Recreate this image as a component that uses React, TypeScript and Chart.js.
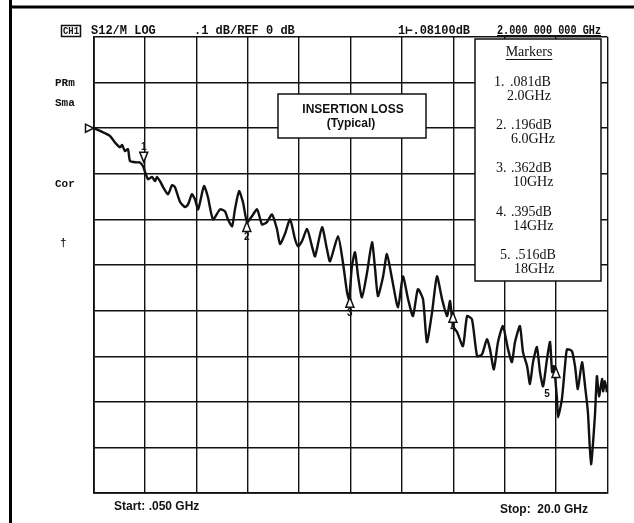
import React, { useEffect, useRef } from 'react';
import { Chart, registerables } from 'chart.js';

Chart.register(...registerables);

// Trace: frequency (GHz) and S12 magnitude (dB)
const freqGHz = [
  0.07, 0.30, 0.69, 0.88, 1.08, 1.16, 1.27, 1.39, 1.47, 1.74, 1.85, 1.97, 2.05, 2.17, 2.32, 2.44, 2.51, 2.63, 2.75, 2.94,
  3.10, 3.21, 3.41, 3.60, 3.72, 3.87, 3.99, 4.11, 4.34, 4.49, 4.69, 4.96, 5.15, 5.27, 5.43, 5.54, 5.70, 5.85, 6.01, 6.20,
  6.40, 6.59, 6.78, 6.98, 7.17, 7.29, 7.48, 7.68, 7.87, 7.99, 8.14, 8.34, 8.53, 8.65, 8.92, 9.11, 9.23, 9.54, 9.73, 9.89,
  9.97, 10.08, 10.20, 10.32, 10.47, 10.67, 10.86, 10.98, 11.09, 11.29, 11.44, 11.64, 11.87, 12.06, 12.26, 12.45, 12.64, 12.84, 12.99, 13.19,
  13.38, 13.58, 13.77, 13.89, 14.00, 14.16, 14.39, 14.55, 14.74, 14.94, 15.13, 15.32, 15.44, 15.59, 15.75, 15.94, 16.14, 16.29, 16.41, 16.60,
  16.72, 16.88, 16.99, 17.11, 17.26, 17.38, 17.50, 17.65, 17.77, 17.85, 17.92, 18.04, 18.08, 18.23, 18.35, 18.43, 18.62, 18.74, 18.85, 19.01,
  19.13, 19.24, 19.36, 19.51, 19.59, 19.67, 19.79, 19.83, 19.90, 19.98,
];
const lossDb = [
  0.000, -0.006, -0.017, -0.031, -0.042, -0.037, -0.050, -0.046, -0.072, -0.075, -0.075, -0.083, -0.096, -0.112, -0.107, -0.116, -0.107, -0.116, -0.129, -0.145,
  -0.125, -0.129, -0.162, -0.173, -0.167, -0.145, -0.156, -0.178, -0.127, -0.151, -0.200, -0.178, -0.182, -0.200, -0.215, -0.178, -0.138, -0.162, -0.206, -0.193,
  -0.178, -0.211, -0.206, -0.189, -0.221, -0.254, -0.232, -0.200, -0.243, -0.259, -0.248, -0.221, -0.259, -0.281, -0.217, -0.265, -0.292, -0.237, -0.294, -0.360,
  -0.375, -0.303, -0.272, -0.325, -0.371, -0.316, -0.250, -0.309, -0.368, -0.325, -0.276, -0.331, -0.393, -0.325, -0.375, -0.412, -0.353, -0.375, -0.469, -0.404,
  -0.325, -0.375, -0.412, -0.379, -0.434, -0.447, -0.478, -0.412, -0.419, -0.500, -0.496, -0.463, -0.485, -0.529, -0.469, -0.434, -0.485, -0.513, -0.469, -0.434,
  -0.491, -0.522, -0.561, -0.513, -0.480, -0.535, -0.566, -0.507, -0.469, -0.535, -0.522, -0.594, -0.634, -0.594, -0.522, -0.485, -0.489, -0.522, -0.572, -0.513,
  -0.566, -0.623, -0.737, -0.632, -0.544, -0.588, -0.550, -0.577, -0.555, -0.579,
];

// Markers
const markerNumbers = ['1', '2', '3', '4', '5'];
const markerFreqGHz = [2.0, 6.0, 10.0, 14.0, 18.0];
const markerDb = [-0.081, -0.196, -0.362, -0.395, -0.516];
const markerValueText = ['.081dB', '.196dB', '.362dB', '.395dB', '.516dB'];
const markerFreqText = ['2.0GHz', '6.0GHz', '10GHz', '14GHz', '18GHz'];

// Grid (10 x 10 divisions)
const xGridGHz = [0.05, 2.045, 4.04, 6.035, 8.03, 10.025, 12.02, 14.015, 16.01, 18.005, 20.0];
const yGridDb = [0.2, 0.1, 0.0, -0.1, -0.2, -0.3, -0.4, -0.5, -0.6, -0.7, -0.8];
const refLevelDb = 0;

// Texts
const headerTexts = ['S12/M LOG', '.1 dB/REF 0 dB', '1\u22A2.08100dB', '2.000 000 000 GHz'];
const sideLabels = ['PRm', 'Sma', 'Cor', '\u2020'];
const titleLines = ['INSERTION LOSS', '(Typical)'];
const startLabel = 'Start: .050 GHz';
const stopLabel = 'Stop:  20.0 GHz';

const INK = '#111';
const MONO = '"Liberation Mono", "DejaVu Sans Mono", monospace';
const SERIF = '"Liberation Serif", "DejaVu Serif", serif';
const SANS = '"Liberation Sans", Arial, sans-serif';

const decorPlugin = {
  id: 'decor',
  beforeDraw(chart: any) {
    const ctx = chart.ctx;
    ctx.save();
    ctx.fillStyle = '#fff';
    ctx.fillRect(0, 0, chart.width, chart.height);
    ctx.restore();
  },
  afterDatasetsDraw(chart: any) {
    const ctx = chart.ctx;
    const xs = chart.scales.x;
    const ys = chart.scales.y;
    const area = chart.chartArea;
    ctx.save();

    // outer frame of the scan
    ctx.strokeStyle = '#000';
    ctx.lineWidth = 3;
    ctx.beginPath();
    ctx.moveTo(10.5, 0);
    ctx.lineTo(10.5, chart.height);
    ctx.moveTo(10, 7);
    ctx.lineTo(chart.width, 7);
    ctx.stroke();

    // header
    ctx.fillStyle = INK;
    ctx.textBaseline = 'middle';
    ctx.textAlign = 'left';
    ctx.font = `bold 10px ${MONO}`;
    ctx.fillText('CH1', 63, 31, 16);
    ctx.lineWidth = 1.5;
    ctx.strokeStyle = INK;
    ctx.strokeRect(61.5, 25.5, 19, 11);
    ctx.font = `bold 12px ${MONO}`;
    ctx.fillText(headerTexts[0], 91, 31, 65);
    ctx.fillText(headerTexts[1], 194, 31, 111);
    ctx.fillText(headerTexts[2], 398, 31, 76);
    ctx.fillText(headerTexts[3], 497, 31, 104);
    ctx.fillRect(497, 35, 104, 1);

    // side labels
    ctx.font = `bold 11px ${MONO}`;
    ctx.fillText(sideLabels[0], 55, 83, 22);
    ctx.fillText(sideLabels[1], 55, 103, 22);
    ctx.fillText(sideLabels[2], 55, 184, 22);
    ctx.fillText(sideLabels[3], 60, 243);

    // reference level pointer
    const yr = ys.getPixelForValue(refLevelDb);
    ctx.lineWidth = 1.5;
    ctx.fillStyle = '#fff';
    ctx.beginPath();
    ctx.moveTo(area.left, yr);
    ctx.lineTo(area.left - 8, yr - 4);
    ctx.lineTo(area.left - 8, yr + 4);
    ctx.closePath();
    ctx.fill();
    ctx.stroke();

    // markers
    markerFreqGHz.forEach((f, i) => {
      const px = xs.getPixelForValue(f);
      const py = ys.getPixelForValue(markerDb[i]);
      ctx.beginPath();
      if (i === 0) {
        ctx.moveTo(px, py - 3);
        ctx.lineTo(px - 4, py - 13);
        ctx.lineTo(px + 4, py - 13);
      } else {
        ctx.moveTo(px, py + 4);
        ctx.lineTo(px - 4, py + 14);
        ctx.lineTo(px + 4, py + 14);
      }
      ctx.closePath();
      ctx.fillStyle = '#fff';
      ctx.fill();
      ctx.strokeStyle = INK;
      ctx.lineWidth = 1.5;
      ctx.stroke();
      ctx.fillStyle = INK;
      ctx.font = `bold 10px ${SANS}`;
      ctx.textAlign = 'center';
      if (i === 0) ctx.fillText(markerNumbers[i], px, py - 18);
      else if (i === 4) ctx.fillText(markerNumbers[i], px - 9, py + 31);
      else ctx.fillText(markerNumbers[i], px, py + 20);
    });

    // title box
    ctx.fillStyle = '#fff';
    ctx.fillRect(278, 94, 148, 44);
    ctx.strokeStyle = INK;
    ctx.lineWidth = 1.5;
    ctx.strokeRect(278, 94, 148, 44);
    ctx.fillStyle = INK;
    ctx.textAlign = 'center';
    ctx.font = `bold 12px ${SANS}`;
    ctx.fillText(titleLines[0], 353, 110);
    ctx.fillText(titleLines[1], 351, 124);

    // markers legend box
    ctx.fillStyle = '#fff';
    ctx.fillRect(475, 39, 126, 242);
    ctx.strokeStyle = INK;
    ctx.lineWidth = 1.5;
    ctx.strokeRect(475, 39, 126, 242);
    ctx.fillStyle = INK;
    ctx.font = `14px ${SERIF}`;
    ctx.textAlign = 'center';
    ctx.fillText('Markers', 529, 52);
    const mw = ctx.measureText('Markers').width;
    ctx.fillRect(529 - mw / 2, 59, mw, 1);
    ctx.textAlign = 'left';
    const rowY = [82, 125, 168, 212, 255];
    const numX = [494, 496, 496, 496, 500];
    const valX = [510, 511, 511, 511, 515];
    const frqX = [507, 511, 513, 513, 514];
    markerValueText.forEach((t, i) => {
      ctx.fillText(markerNumbers[i] + '.', numX[i], rowY[i]);
      ctx.fillText(t, valX[i], rowY[i]);
      ctx.fillText(markerFreqText[i], frqX[i], rowY[i] + 14);
    });

    // start / stop
    ctx.font = `bold 12px ${SANS}`;
    ctx.textAlign = 'left';
    ctx.fillText(startLabel, 114, 507);
    ctx.textAlign = 'right';
    ctx.fillText(stopLabel, 588, 510);

    ctx.restore();
  },
};

export default function App() {
  const canvasRef = useRef<HTMLCanvasElement | null>(null);

  useEffect(() => {
    const canvas = canvasRef.current;
    if (!canvas) return;
    const chart = new Chart(canvas, {
      type: 'line',
      data: {
        datasets: [
          {
            label: 'S12',
            data: freqGHz.map((f, i) => ({ x: f, y: lossDb[i] })),
            borderColor: INK,
            borderWidth: 2.4,
            pointRadius: 0,
            tension: 0.2,
            fill: false,
          },
        ],
      },
      options: {
        responsive: false,
        animation: false,
        devicePixelRatio: 1,
        layout: { padding: { left: 93.5, right: 26.5, top: 37, bottom: 30 } },
        plugins: { legend: { display: false }, tooltip: { enabled: false }, title: { display: false } },
        scales: {
          x: {
            type: 'linear',
            min: xGridGHz[0],
            max: xGridGHz[xGridGHz.length - 1],
            afterBuildTicks: (s: any) => {
              s.ticks = xGridGHz.map((v) => ({ value: v }));
            },
            afterFit: (s: any) => {
              s.height = 0;
            },
            ticks: { display: false },
            grid: { color: INK, lineWidth: 1.4, drawTicks: false },
            border: { display: true, color: INK, width: 1.8 },
          },
          y: {
            type: 'linear',
            min: yGridDb[yGridDb.length - 1],
            max: yGridDb[0],
            afterBuildTicks: (s: any) => {
              s.ticks = yGridDb.map((v) => ({ value: v }));
            },
            afterFit: (s: any) => {
              s.width = 0;
            },
            ticks: { display: false },
            grid: { color: INK, lineWidth: 1.4, drawTicks: false },
            border: { display: true, color: INK, width: 1.8 },
          },
        },
      },
      plugins: [decorPlugin],
    } as any);
    return () => chart.destroy();
  }, []);

  return (
    <div style={{ position: 'fixed', left: 0, top: 0, width: 634, height: 523, background: '#fff' }}>
      <canvas ref={canvasRef} width={634} height={523} style={{ display: 'block', width: 634, height: 523 }} />
    </div>
  );
}
